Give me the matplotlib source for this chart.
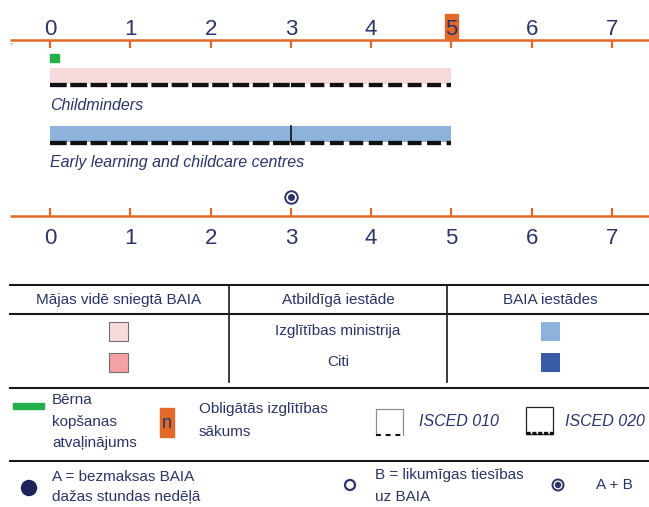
import matplotlib
matplotlib.use("Agg")
import matplotlib.pyplot as plt
from matplotlib.patches import Rectangle, Circle

plt.rcParams['font.family'] = ['Liberation Sans', 'DejaVu Sans']
plt.rcParams['lines.scale_dashes'] = False

# data
ages = [0, 1, 2, 3, 4, 5, 6, 7]
compulsory_age = 5
leave_end = 0.11
settings = ["Childminders", "Early learning and childcare centres"]
setting_start = [0, 0]
setting_end = [5, 5]
isced010_end = [3, 3]
split_line = [None, 3]
setting_colors = ["#F9DADC", "#8DB3DD"]
entitlement_age = 3

header = ["Mājas vidē sniegtā BAIA", "Atbildīgā iestāde", "BAIA iestādes"]
authorities = ["Izglītības ministrija", "Citi"]
home_colors = ["#F9DADC", "#F4A0A5"]
centre_colors = ["#8DB3DD", "#3A5BA8"]

ORANGE = "#E2692A"
NAVY = "#2B3467"
GREEN = "#22B04B"

fig = plt.figure(figsize=(6.49, 5.07), dpi=100)
ax = fig.add_axes([0, 0, 1, 1])
px = 80.29
ax.set_xlim(-50 / px, (649 - 50) / px)
ax.set_ylim(507, 0)
ax.axis("off")

# pixel axes for table and legend
lax = fig.add_axes([0, 0, 1, 1], facecolor="none")
lax.set_xlim(0, 649)
lax.set_ylim(507, 0)
lax.axis("off")

x_left = 10 / px - 50 / px
x_right = (649 - 50) / px

# top and bottom age axes
for y_line, y_tick, y_lab in [(40, 48, 27), (216, 208, 236)]:
    ax.plot([x_left, x_right], [y_line, y_line], color=ORANGE, lw=1.8, solid_capstyle="butt")
    for a in ages:
        ax.plot([a, a], [y_line, y_tick], color=ORANGE, lw=1.6, solid_capstyle="butt")
        ax.text(a, y_lab, str(a), ha="center", va="center_baseline", fontsize=16,
                color=NAVY, zorder=3)

ax.add_patch(Rectangle((compulsory_age - 6.5 / px, 14), 13 / px, 26, color=ORANGE, zorder=1))

ax.text(10 / px - 50 / px, 45, "77", fontsize=3, color="#9A9AB0", ha="left", va="center")

# childcare leave
ax.add_patch(Rectangle((0, 54), leave_end, 8, color=GREEN))

# settings
bar_tops = [68, 126]
for i, name in enumerate(settings):
    y0 = bar_tops[i]
    ax.add_patch(Rectangle((setting_start[i], y0), setting_end[i] - setting_start[i], 16,
                           color=setting_colors[i], lw=0))
    yd = y0 + 17
    ax.plot([setting_start[i], isced010_end[i]], [yd, yd], color="#111111", lw=3.1,
            dashes=(12, 2.6), dash_capstyle="butt")
    ax.plot([isced010_end[i], setting_end[i]], [yd, yd], color="#111111", lw=3.1,
            dashes=(10, 4), dash_capstyle="butt")
    if split_line[i] is not None:
        ax.plot([split_line[i], split_line[i]], [y0, y0 + 16], color="#111111", lw=1.2)
    ax.text(setting_start[i], y0 + 37, name, style="italic", fontsize=11.5, color=NAVY,
            ha="left", va="center")

# entitlement marker
ax.plot(entitlement_age, 197, "o", ms=9, mfc="white", mec=NAVY, mew=1.4)
ax.plot(entitlement_age, 197, "o", ms=4, color=NAVY)

# table
for yl in [285, 314]:
    lax.plot([10, 649], [yl, yl], color="#1a1a1a", lw=1.5)
for xl in [229, 447]:
    lax.plot([xl, xl], [285, 382], color="#1a1a1a", lw=1.2)
col_x = [119, 338, 550]
for cx, h in zip(col_x, header):
    lax.text(cx, 300, h, ha="center", va="center", fontsize=11, color=NAVY)
row_y = [331, 362]
for ry, auth, hc, cc in zip(row_y, authorities, home_colors, centre_colors):
    lax.add_patch(Rectangle((109, ry - 9.5), 19, 19, facecolor=hc, edgecolor="#707070", lw=0.8))
    lax.add_patch(Rectangle((541, ry - 9.5), 19, 19, facecolor=cc, edgecolor="none"))
    lax.text(338, ry, auth, ha="center", va="center", fontsize=11, color=NAVY)


def lines(x, ys, texts, **kw):
    for y, t in zip(ys, texts):
        lax.text(x, y, t, ha="left", va="center", fontsize=11, color=NAVY, **kw)


# legend
for yl in [388, 461]:
    lax.plot([10, 649], [yl, yl], color="#1a1a1a", lw=1.5)
lax.add_patch(Rectangle((13, 403), 31, 6, color=GREEN))
lines(52, [400, 422, 443], ["Bērna", "kopšanas", "atvaļinājums"])
lax.add_patch(Rectangle((160, 408), 14, 29, color=ORANGE))
lax.text(167, 423, "n", ha="center", va="center", fontsize=13, color=NAVY)
lines(199, [409, 432], ["Obligātās izglītības", "sākums"])

# ISCED 010 box
lax.plot([376, 376, 403, 403], [435, 409, 409, 435], color="#909090", lw=0.9)
lax.plot([376, 403], [434.5, 434.5], color="#111111", lw=1.5, dashes=(3.5, 3.5))
lax.text(419, 422, "ISCED 010", style="italic", ha="left", va="center", fontsize=11.5, color=NAVY)
# ISCED 020 box
lax.add_patch(Rectangle((526, 407), 27, 27, facecolor="none", edgecolor="#222222", lw=0.9))
lax.plot([526, 553], [433, 433], color="#111111", lw=2.4, dashes=(3, 1.2))
lax.text(565, 422, "ISCED 020", style="italic", ha="left", va="center", fontsize=11.5, color=NAVY)

lax.add_patch(Circle((29, 488), 7.5, color="#1C2559"))
lines(52, [477, 497], ["A = bezmaksas BAIA", "dažas stundas nedēļā"])
lax.add_patch(Circle((350, 485), 5, facecolor="white", edgecolor=NAVY, lw=1.6))
lines(375, [475, 497], ["B = likumīgas tiesības", "uz BAIA"])
lax.add_patch(Circle((558, 485), 5.5, facecolor="white", edgecolor=NAVY, lw=1.4))
lax.add_patch(Circle((558, 485), 2.5, color=NAVY))
lines(596, [485], ["A + B"])

fig.savefig("out.png", dpi=100)
